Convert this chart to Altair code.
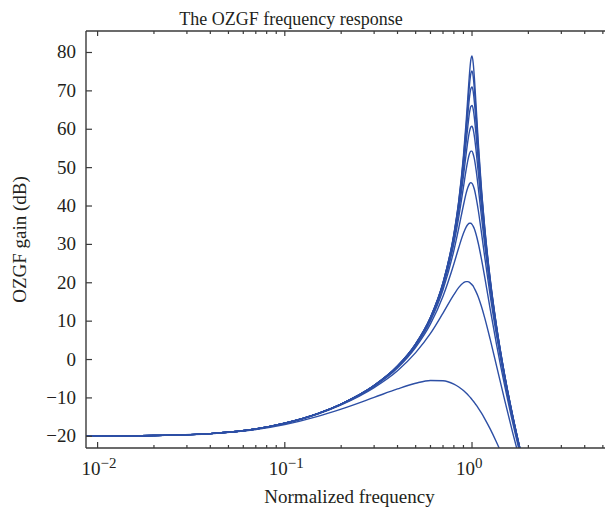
import altair as alt
import pandas as pd

# ---- data ----
freq = [0.0085, 0.02, 0.04, 0.07, 0.1, 0.15, 0.2, 0.3, 0.4, 0.5, 0.6, 0.7, 0.8, 0.85,
        0.9, 0.93, 0.95, 0.97, 0.985, 1.0, 1.015, 1.03, 1.05, 1.08, 1.12, 1.17, 1.25,
        1.35, 1.5, 1.65, 1.8, 2.0]

gain_1 = [-20.0, -19.8, -19.3, -18.1, -16.6, -14.1, -11.6, -6.7, -1.7, 4.1, 11.0, 20.0, 32.7, 41.5,
          53.1, 61.9, 68.4, 74.6, 78.0, 79.1, 77.2, 73.3, 66.6, 56.6, 45.3, 34.3, 21.1,
          8.9, -4.5, -14.7, -23.0, -32.2]
gain_2 = [-20.0, -19.8, -19.3, -18.1, -16.6, -14.1, -11.6, -6.8, -1.7, 4.1, 11.0, 20.0, 32.5, 41.2,
          52.3, 60.5, 66.3, 71.7, 74.4, 75.2, 73.7, 70.3, 64.5, 55.3, 44.6, 33.9, 20.9,
          8.8, -4.5, -14.7, -23.0, -32.3]
gain_3 = [-20.0, -19.8, -19.3, -18.1, -16.6, -14.1, -11.6, -6.8, -1.7, 4.0, 10.9, 19.9, 32.3, 40.7,
          51.3, 58.8, 63.9, 68.4, 70.5, 71.0, 69.8, 67.0, 62.0, 53.7, 43.7, 33.3, 20.6,
          8.7, -4.6, -14.8, -23.1, -32.3]
gain_4 = [-20.0, -19.8, -19.3, -18.1, -16.6, -14.1, -11.6, -6.8, -1.7, 4.0, 10.9, 19.7, 31.8, 39.9,
          49.8, 56.5, 60.8, 64.4, 65.9, 66.2, 65.2, 62.9, 58.7, 51.6, 42.4, 32.6, 20.2,
          8.4, -4.8, -14.9, -23.1, -32.4]
gain_5 = [-20.0, -19.8, -19.3, -18.1, -16.6, -14.1, -11.6, -6.8, -1.8, 3.9, 10.7, 19.4, 31.2, 38.8,
          47.8, 53.5, 56.9, 59.5, 60.6, 60.8, 59.9, 58.1, 54.7, 48.7, 40.5, 31.4, 19.5,
          8.1, -5.0, -15.0, -23.2, -32.4]
gain_6 = [-20.0, -19.8, -19.3, -18.1, -16.6, -14.1, -11.6, -6.8, -1.8, 3.8, 10.5, 19.0, 30.2, 37.2,
          44.9, 49.4, 51.9, 53.7, 54.3, 54.3, 53.5, 52.2, 49.6, 44.8, 37.8, 29.7, 18.5,
          7.5, -5.3, -15.2, -23.4, -32.5]
gain_7 = [-20.0, -19.8, -19.3, -18.1, -16.6, -14.1, -11.7, -6.9, -1.9, 3.6, 10.1, 18.2, 28.4, 34.3,
          40.2, 43.3, 44.8, 45.8, 46.1, 45.9, 45.3, 44.3, 42.4, 38.9, 33.5, 26.6, 16.7,
          6.4, -5.9, -15.6, -23.7, -32.6]
gain_8 = [-20.0, -19.8, -19.3, -18.1, -16.6, -14.1, -11.7, -7.0, -2.2, 3.2, 9.3, 16.5, 24.9, 29.2,
          32.9, 34.5, 35.2, 35.5, 35.5, 35.2, 34.7, 34.0, 32.7, 30.3, 26.5, 21.4, 13.2,
          4.1, -7.2, -16.5, -24.3, -33.1]
gain_9 = [-20.0, -19.8, -19.3, -18.1, -16.7, -14.2, -11.8, -7.3, -2.9, 1.8, 6.8, 12.1, 16.9, 18.8,
          20.0, 20.3, 20.3, 20.1, 19.8, 19.5, 19.1, 18.5, 17.7, 16.3, 14.0, 10.8, 5.3,
          -1.5, -10.9, -19.1, -26.2, -34.5]
gain_10 = [-20.0, -19.8, -19.35, -18.25, -16.96, -14.82, -12.92, -9.87, -7.66, -6.18, -5.45, -5.51, -6.40, -7.15,
           -8.08, -8.72, -9.18, -9.66, -10.03, -10.42, -10.81, -11.22, -11.79, -12.65, -13.86, -15.45, -18.07,
           -21.48, -26.61, -31.6, -36.4, -42.5]

curves = [gain_1, gain_2, gain_3, gain_4, gain_5, gain_6, gain_7, gain_8, gain_9, gain_10]

y_ticks = [-20, -10, 0, 10, 20, 30, 40, 50, 60, 70, 80]
y_tick_labels = ["\u221220", "\u221210", "0", "10", "20", "30", "40", "50", "60", "70", "80"]
x_major = [0.01, 0.1, 1.0]
x_major_exp = ["\u22122", "\u22121", "0"]
x_minor = [0.02, 0.03, 0.04, 0.05, 0.06, 0.07, 0.08, 0.09,
           0.2, 0.3, 0.4, 0.5, 0.6, 0.7, 0.8, 0.9,
           2.0, 3.0, 4.0, 5.0]

title_text = "The OZGF frequency response"
x_title = "Normalized frequency"
y_title = "OZGF gain (dB)"

# ---- build tables ----
rows = []
for i, g in enumerate(curves):
    for f, v in zip(freq, g):
        rows.append({"curve": i, "freq": f, "gain": v})
df = pd.DataFrame(rows)
ytick_df = pd.DataFrame({"gain": y_ticks, "label": y_tick_labels})
xmaj_df = pd.DataFrame({"freq": x_major, "base": ["10"] * len(x_major), "exp": x_major_exp})
xmin_df = pd.DataFrame({"freq": x_minor})
titles_df = pd.DataFrame({"t": [title_text], "xt": [x_title], "yt": [y_title]})

# plot area: the reference's frame runs past the right edge of the window,
# so the drawable area stops at the page width
W, H = 519, 417
FONT = "Liberation Serif"
TXT = "#231f20"
AX = "#3a3a3a"
BLUE = "#2d4fa5"

xscale = alt.Scale(type="log", domain=[0.00867, 5.133], nice=False)
yscale = alt.Scale(domain=[-23.05, 85.6], nice=False, zero=False)
XE = alt.X("freq:Q", scale=xscale, axis=None)
YE = alt.Y("gain:Q", scale=yscale, axis=None)

lines = alt.Chart(df).mark_line(
    color=BLUE, strokeWidth=1.4, clip=True, interpolate="monotone"
).encode(x=XE, y=YE, detail="curve:N")

frame_style = dict(color=AX, strokeWidth=1.4)
frame_bottom = alt.Chart(titles_df).mark_rule(**frame_style).encode(
    x=alt.value(0), x2=alt.value(W), y=alt.value(H))
frame_top = alt.Chart(titles_df).mark_rule(**frame_style).encode(
    x=alt.value(0), x2=alt.value(W), y=alt.value(0))
frame_left = alt.Chart(titles_df).mark_rule(**frame_style).encode(
    x=alt.value(0), y=alt.value(0), y2=alt.value(H))

tick_style = dict(color=AX, strokeWidth=1.2)

y_left = alt.Chart(ytick_df).mark_rule(**tick_style).encode(
    y=YE, x=alt.value(0), x2=alt.value(6))
y_labels = alt.Chart(ytick_df).mark_text(
    font=FONT, fontSize=19, color=TXT, align="right", baseline="middle", dx=-10
).encode(y=YE, x=alt.value(0), text="label:N")

xmaj_bot = alt.Chart(xmaj_df).mark_rule(**tick_style).encode(
    x=XE, y=alt.value(H), y2=alt.value(H - 6))
xmaj_top = alt.Chart(xmaj_df).mark_rule(**tick_style).encode(
    x=XE, y=alt.value(0), y2=alt.value(5))
xmin_bot = alt.Chart(xmin_df).mark_rule(**tick_style).encode(
    x=XE, y=alt.value(H), y2=alt.value(H - 3))
xmin_top = alt.Chart(xmin_df).mark_rule(**tick_style).encode(
    x=XE, y=alt.value(0), y2=alt.value(3))

lab_base = alt.Chart(xmaj_df).mark_text(
    font=FONT, fontSize=19, color=TXT, align="right", baseline="alphabetic", dx=3
).encode(x=XE, y=alt.value(H + 27), text="base:N")
lab_exp = alt.Chart(xmaj_df).mark_text(
    font=FONT, fontSize=15, color=TXT, align="left", baseline="alphabetic", dx=3
).encode(x=XE, y=alt.value(H + 20), text="exp:N")

title_mark = alt.Chart(titles_df).mark_text(
    font=FONT, fontSize=18, color=TXT, align="center", baseline="alphabetic"
).encode(x=alt.value(205), y=alt.value(-6), text="t:N")
xtitle_mark = alt.Chart(titles_df).mark_text(
    font=FONT, fontSize=19, color=TXT, align="center", baseline="alphabetic"
).encode(x=alt.value(263.5), y=alt.value(H + 55), text="xt:N")
ytitle_mark = alt.Chart(titles_df).mark_text(
    font=FONT, fontSize=19, color=TXT, align="center", baseline="middle", angle=270
).encode(x=alt.value(-66), y=alt.value(H / 2), text="yt:N")

chart = alt.layer(
    lines, frame_bottom, frame_top, frame_left, y_left, y_labels,
    xmaj_bot, xmaj_top, xmin_bot, xmin_top,
    lab_base, lab_exp, title_mark, xtitle_mark, ytitle_mark
).properties(
    width=W, height=H,
    autosize=alt.AutoSizeParams(type="none"),
    padding={"left": 78, "top": 23, "right": 0, "bottom": 60},
).configure_view(strokeWidth=0)

chart.save("out.html", embed_options={"renderer": "svg", "actions": False})
